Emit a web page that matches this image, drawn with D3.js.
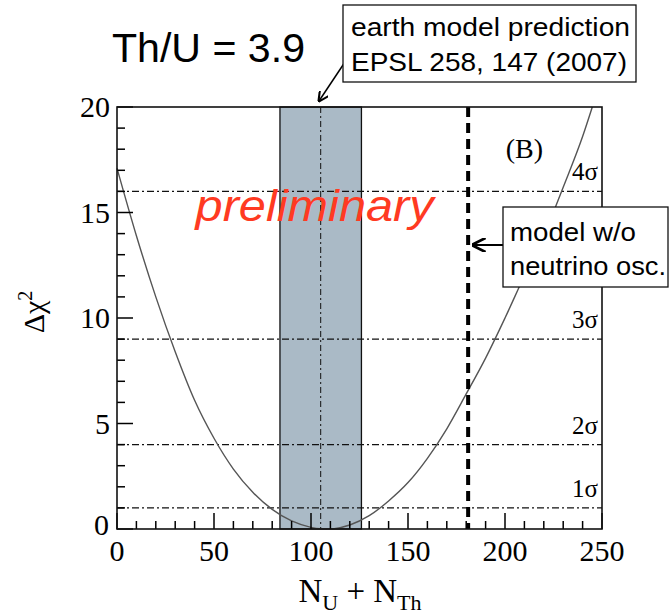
<!DOCTYPE html>
<html>
<head>
<meta charset="utf-8">
<script src="https://d3js.org/d3.v7.min.js"></script>
<style>
  body { margin: 0; background: #fff; }
  .serif { font-family: "Liberation Serif", "Times New Roman", serif; }
  .sans { font-family: "Liberation Sans", Arial, sans-serif; }
</style>
</head>
<body>
<div id="chart"></div>
<script>
// curve
var chiX = [0, 10, 20, 30, 40, 50, 60, 70, 80, 90, 100, 105, 108, 112, 120, 130, 140, 150, 160, 170, 180, 190, 200, 210, 220, 230, 240, 245];
var chiY = [17.1, 13.9, 11.0, 8.4, 6.1, 4.3, 2.84, 1.74, 0.93, 0.38, 0.08, 0.01, 0, 0.02, 0.19, 0.63, 1.33, 2.2, 3.35, 4.75, 6.4, 8.1, 10.0, 12.0, 13.9, 16.2, 18.6, 20];

var sigmaLevels = [1, 4, 9, 16];
var sigmaLabels = ["1σ", "2σ", "3σ", "4σ"];

var bandRange = [84, 126];
var bandCenter = 105;
var noOscValue = 181;

var xTicks = [0, 50, 100, 150, 200, 250];
var yTicks = [0, 5, 10, 15, 20];

var W = 669, H = 614;
var margin = {top: 107, right: 67, bottom: 85, left: 117},
    width = W - margin.left - margin.right,
    height = H - margin.top - margin.bottom;

var svg = d3.select("#chart").append("svg")
    .attr("width", W)
    .attr("height", H);

var g = svg.append("g")
    .attr("transform", "translate(" + margin.left + "," + margin.top + ")");

var x = d3.scaleLinear().domain([0, 250]).range([0, width]);
var y = d3.scaleLinear().domain([0, 20]).range([height, 0]);

// shaded prediction band
g.append("rect")
    .attr("x", x(bandRange[0]))
    .attr("y", 0)
    .attr("width", x(bandRange[1]) - x(bandRange[0]))
    .attr("height", height)
    .attr("fill", "#aabac6")
    .attr("stroke", "#111")
    .attr("stroke-width", 1.3);

g.append("line")
    .attr("x1", x(bandCenter)).attr("x2", x(bandCenter))
    .attr("y1", 0).attr("y2", height)
    .attr("stroke", "#111")
    .attr("stroke-width", 1)
    .attr("stroke-dasharray", "6,3,2,3");

// sigma lines
g.selectAll(".sig")
  .data(sigmaLevels)
  .enter()
  .append("line")
    .attr("x1", 0).attr("x2", width)
    .attr("y1", function(d) { return y(d); })
    .attr("y2", function(d) { return y(d); })
    .attr("stroke", "#111")
    .attr("stroke-width", 1.1)
    .attr("stroke-dasharray", "7,3,2,3");

g.selectAll(".siglab")
  .data(sigmaLevels)
  .enter()
  .append("text")
    .attr("class", "serif")
    .attr("x", width - 4)
    .attr("y", function(d) { return y(d) - 11; })
    .attr("text-anchor", "end")
    .style("font-size", "25px")
    .text(function(d, i) { return sigmaLabels[i]; });

// chi2 curve
var line = d3.line()
    .x(function(d) { return x(d[0]); })
    .y(function(d) { return y(d[1]); })
    .curve(d3.curveMonotoneX);

g.append("path")
    .datum(chiX.map(function(v, i) { return [v, chiY[i]]; }))
    .attr("d", line)
    .attr("fill", "none")
    .attr("stroke", "#555")
    .attr("stroke-width", 1.4);

// model w/o oscillation
g.append("line")
    .attr("x1", x(noOscValue)).attr("x2", x(noOscValue))
    .attr("y1", 0).attr("y2", height)
    .attr("stroke", "#000")
    .attr("stroke-width", 4)
    .attr("stroke-dasharray", "10,6");

// ticks, drawn inside the frame
g.selectAll(".xtick")
  .data(d3.range(0, 251, 10))
  .enter()
  .append("line")
    .attr("class", "xtick")
    .attr("x1", function(d) { return x(d); })
    .attr("x2", function(d) { return x(d); })
    .attr("y1", height)
    .attr("y2", function(d) { return d % 50 === 0 ? height - 16 : height - 8; })
    .attr("stroke", "#000")
    .attr("stroke-width", 1.5);

g.selectAll(".ytick")
  .data(d3.range(0, 21, 1))
  .enter()
  .append("line")
    .attr("class", "ytick")
    .attr("x1", 0)
    .attr("x2", function(d) { return d % 5 === 0 ? 16 : 8; })
    .attr("y1", function(d) { return y(d); })
    .attr("y2", function(d) { return y(d); })
    .attr("stroke", "#000")
    .attr("stroke-width", 1.5);

g.append("rect")
    .attr("width", width).attr("height", height)
    .attr("fill", "none")
    .attr("stroke", "#111")
    .attr("stroke-width", 1.6);

// tick labels
g.selectAll(".xl")
  .data(xTicks)
  .enter()
  .append("text")
    .attr("class", "serif")
    .attr("x", function(d) { return x(d); })
    .attr("y", height + 32)
    .attr("text-anchor", "middle")
    .style("font-size", "30px")
    .text(function(d) { return d; });

g.selectAll(".yl")
  .data(yTicks)
  .enter()
  .append("text")
    .attr("class", "serif")
    .attr("x", function(d) { return d === 0 ? -8 : -7; })
    .attr("y", function(d) { return d === 0 ? y(d) + 6 : y(d) + 10; })
    .attr("text-anchor", "end")
    .style("font-size", "30px")
    .text(function(d) { return d; });

// axis titles
var xt = svg.append("text")
    .attr("class", "serif")
    .attr("x", 360)
    .attr("y", 602)
    .attr("text-anchor", "middle")
    .style("font-size", "33px");
xt.append("tspan").text("N");
xt.append("tspan").attr("dy", 8).style("font-size", "22px").text("U");
xt.append("tspan").attr("dy", -8).text(" + N");
xt.append("tspan").attr("dy", 8).style("font-size", "22px").text("Th");

var yt = svg.append("text")
    .attr("class", "serif")
    .attr("transform", "translate(44,312) rotate(-90)")
    .attr("text-anchor", "middle")
    .style("font-size", "30px");
yt.append("tspan").text("Δχ");
yt.append("tspan").attr("dy", -12).style("font-size", "20px").text("2");

// panel label and watermark
g.append("text")
    .attr("class", "serif")
    .attr("x", x(210))
    .attr("y", y(17.6))
    .attr("text-anchor", "middle")
    .style("font-size", "28px")
    .text("(B)");

g.append("text")
    .attr("class", "sans")
    .attr("x", x(40.5))
    .attr("y", y(14.6))
    .attr("fill", "#ff3a22")
    .style("font-style", "italic")
    .style("font-size", "44px")
    .attr("textLength", 238)
    .attr("lengthAdjust", "spacingAndGlyphs")
    .text("preliminary");

// title
svg.append("text")
    .attr("class", "sans")
    .attr("x", 112)
    .attr("y", 62)
    .style("font-size", "40px")
    .attr("textLength", 193)
    .attr("lengthAdjust", "spacingAndGlyphs")
    .text("Th/U = 3.9");

// arrow marker
svg.append("defs").append("marker")
    .attr("id", "arr")
    .attr("viewBox", "0 0 10 10")
    .attr("refX", 9).attr("refY", 5)
    .attr("markerWidth", 7).attr("markerHeight", 7)
    .attr("orient", "auto")
  .append("path")
    .attr("d", "M0,0 L10,5 L0,10")
    .attr("fill", "none")
    .attr("stroke", "#000")
    .attr("stroke-width", 2);

// annotation boxes
svg.append("line")
    .attr("x1", 345).attr("y1", 62)
    .attr("x2", 319).attr("y2", 101)
    .attr("stroke", "#000").attr("stroke-width", 1.5)
    .attr("marker-end", "url(#arr)");

svg.append("rect")
    .attr("x", 343).attr("y", 5)
    .attr("width", 293).attr("height", 77)
    .attr("fill", "#fff")
    .attr("stroke", "#111").attr("stroke-width", 1.3);

svg.append("text").attr("class", "sans")
    .attr("x", 351).attr("y", 36)
    .style("font-size", "26px")
    .attr("textLength", 279)
    .attr("lengthAdjust", "spacingAndGlyphs")
    .text("earth model prediction");
svg.append("text").attr("class", "sans")
    .attr("x", 351).attr("y", 71)
    .style("font-size", "26px")
    .attr("textLength", 276)
    .attr("lengthAdjust", "spacingAndGlyphs")
    .text("EPSL 258, 147 (2007)");

svg.append("line")
    .attr("x1", 503).attr("y1", 245)
    .attr("x2", 473).attr("y2", 245)
    .attr("stroke", "#000").attr("stroke-width", 2)
    .attr("marker-end", "url(#arr)");

svg.append("rect")
    .attr("x", 503).attr("y", 207)
    .attr("width", 165).attr("height", 80)
    .attr("fill", "#fff")
    .attr("stroke", "#111").attr("stroke-width", 1.3);

svg.append("text").attr("class", "sans")
    .attr("x", 510).attr("y", 241)
    .style("font-size", "26px")
    .attr("textLength", 126)
    .attr("lengthAdjust", "spacingAndGlyphs")
    .text("model w/o");
svg.append("text").attr("class", "sans")
    .attr("x", 510).attr("y", 275)
    .style("font-size", "26px")
    .attr("textLength", 156)
    .attr("lengthAdjust", "spacingAndGlyphs")
    .text("neutrino osc.");
</script>
</body>
</html>
